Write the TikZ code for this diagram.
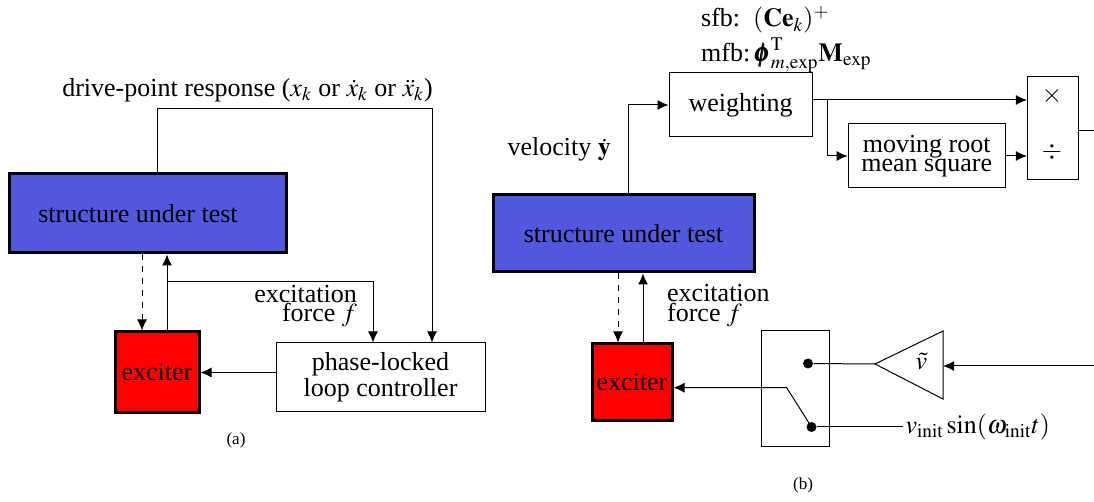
\documentclass[tikz,border=0pt]{standalone}
\usepackage{amsmath}
\usepackage{mathptmx}
\usepackage{bm}
\usepackage{fontspec}
\setmainfont{Liberation Serif}
\usetikzlibrary{arrows.meta}
\definecolor{sutblue}{RGB}{82,88,222}

\begin{document}
\begin{tikzpicture}[x=0.5pt, y=-0.5pt, line width=0.5pt,
	font=\fontsize{13}{11.7}\selectfont,
	blk/.style={draw, line width=0.5pt, inner sep=0pt, align=center},
	heavy/.style={draw, line width=1.5pt, inner sep=0pt, align=center},
	arr/.style={-{Latex[length=5.5pt,width=5pt]}},
	dot/.style={circle, fill, inner sep=0pt, minimum size=5pt},
	tag/.style={font=\fontsize{8.5}{10}\selectfont}]
	\useasboundingbox (0,0) rectangle (1094,502);

	% (a) phase-locked loop
	\node[heavy, fill=sutblue, minimum width=138.5pt, minimum height=39.5pt] (sut_a) at (147.5,213.5) {structure under test\hspace*{9.5pt}};
	\node[heavy, fill=red, minimum width=42pt, minimum height=40.5pt] (exc_a) at (157,372.5) {exciter};
	\node[blk, minimum width=104.5pt, minimum height=34.5pt] (pll) at (380.5,377.5) {phase-locked\\loop controller};
	\node (resp) at (247.5,90) {drive-point response ($x_k$ or $\dot{x}_k$ or $\ddot{x}_k$)};
	\node[align=right, anchor=east, font=\fontsize{13}{9.5}\selectfont] (force_a) at (364,306) {excitation\\force $f$};
	\node[tag] (lbl_a) at (236,440) {(a)};

	\coordinate (dp) at (432,109);
	\coordinate (fa) at (373,282);
	\coordinate (fo_a) at ([xshift=5pt]exc_a.north);
	\coordinate (mo_a) at ([xshift=-7.5pt]exc_a.north);
	\draw[arr] (sut_a.north -| exc_a) |- (dp) -- (dp |- pll.north);
	\draw[arr] (fo_a) -- (fo_a |- sut_a.south);
	\draw[arr] (fo_a |- fa) -- (fa) -- (fa |- pll.north);
	\draw[arr, dashed] (mo_a |- sut_a.south) -- (mo_a);
	\draw[arr] (pll.west |- exc_a) -- (exc_a.east);

	% (b) feedback with weighting
	\node[heavy, fill=sutblue, minimum width=130.5pt, minimum height=38.5pt] (sut_b) at (623.5,233.5) {structure under test};
	\node[heavy, fill=red, minimum width=40pt, minimum height=38.5pt] (exc_b) at (632,382.5) {exciter};
	\node[blk, minimum width=71.5pt, minimum height=32pt] (wgt) at (740.5,105) {weighting};
	\node[blk, minimum width=78.5pt, minimum height=32pt, font=\fontsize{13}{9.4}\selectfont] (rms) at (926.7,156) {moving root\\mean square};
	\node[blk, minimum width=25.6pt, minimum height=51.5pt] (md) at (1053,128.5) {};
	\node (mul) at (1052,96) {$\times$};
	\node (dvd) at (1052,152) {$\div$};
	\node[blk, minimum width=34pt, minimum height=58pt] (sw) at (795,389) {};
	\node[dot] (d1) at (808,363.5) {};
	\node[dot] (d2) at (811.5,427) {};
	\node (vt) at (921.5,362) {$\tilde{v}$};
	\node[anchor=west, inner sep=1pt] (vinit) at (903,427) {$v_{\mathrm{init}}\sin(\omega_{\mathrm{init}}t)$};
	\node[anchor=base east] (vel_lbl) at (618,156) {velocity $\dot{\mathbf{y}}$};
	\node[align=left, anchor=west, font=\fontsize{13}{10}\selectfont] (force_b) at (660,306) {excitation\\force $f$};
	\node[anchor=base west] (sfb) at (694,27) {sfb:\ \ $(\mathbf{C}\mathbf{e}_k)^+$};
	\node[anchor=base west] (mfb) at (694,61.7) {mfb:$\,\bm{\phi}^{\mathrm{T}}_{m,\mathrm{exp}}\mathbf{M}_{\mathrm{exp}}$};
	\node[tag] (lbl_b) at (803,485) {(b)};

	% amplifier
	\coordinate (tip) at (875,364);
	\coordinate (amp_t) at (943,331);
	\coordinate (amp_b) at (943,399);
	\draw (tip) -- (amp_t) -- (amp_b) -- cycle;
	\coordinate (amp_in) at (943,366);
	\coordinate (vin) at (1094,366);
	\draw[arr] (vin) -- (amp_in);
	\draw (d1) -- (tip);
	\draw (d2) -- (vinit.west);

	\coordinate (arm) at (786.7,387.7);
	\draw[arr] (d2.center) -- (arm) -- (arm -| exc_b.east);

	\coordinate (fo_b) at ([xshift=5.5pt]exc_b.north);
	\coordinate (mo_b) at ([xshift=-7pt]exc_b.north);
	\draw[arr] (fo_b) -- (fo_b |- sut_b.south);
	\draw[arr, dashed] (mo_b |- sut_b.south) -- (mo_b);

	\coordinate (vel) at ([xshift=2.5pt]sut_b.north);
	\draw[arr] (vel) |- (wgt.west);
	\coordinate (w_out) at ([yshift=2.5pt]wgt.east);
	\coordinate (br_w) at (827,100);
	\coordinate (out) at (1094,131);
	\draw[arr] (w_out) -- (w_out -| md.west);
	\draw[arr] (br_w) |- (rms.west);
	\draw[arr] (rms.east) -- (rms.east -| md.west);
	\draw (out -| md.east) -- (out);
\end{tikzpicture}
\end{document}
